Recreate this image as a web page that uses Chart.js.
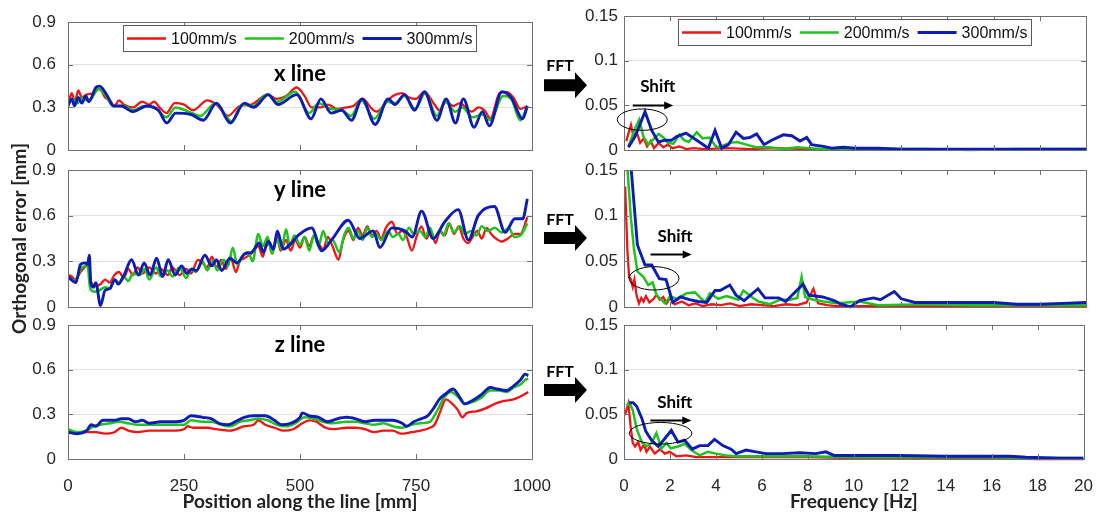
<!DOCTYPE html>
<html>
<head>
<meta charset="utf-8">
<title>Orthogonal error and FFT</title>
<script src="https://cdn.jsdelivr.net/npm/chart.js@4.4.1/dist/chart.umd.min.js"></script>
<style>
  html, body { margin: 0; padding: 0; background: #fff; }
  #figure { position: relative; width: 1102px; height: 515px; overflow: hidden; }
  #figure canvas { position: absolute; left: 0; top: 0; }
</style>
</head>
<body>
<div id="figure">
  <canvas id="xLine" width="1102" height="515"></canvas>
  <canvas id="yLine" width="1102" height="515"></canvas>
  <canvas id="zLine" width="1102" height="515"></canvas>
  <canvas id="xFft" width="1102" height="515"></canvas>
  <canvas id="yFft" width="1102" height="515"></canvas>
  <canvas id="zFft" width="1102" height="515"></canvas>
</div>
<script>
// ---- series labels / colours ----
const speeds = ['100mm/s', '200mm/s', '300mm/s'];
const speedColors = ['#f01414', '#1ec31e', '#0d1cb4'];
const speedWidths = [2.3, 2.5, 2.9];

// ---- tick values ----
const posTicks = [0, 250, 500, 750, 1000];
const errTicks = [0, 0.3, 0.6, 0.9];
const freqTicks = [0, 2, 4, 6, 8, 10, 12, 14, 16, 18, 20];
const ampTicks = [0, 0.05, 0.1, 0.15];

// ---- x line: position [mm] / orthogonal error [mm] ----
const xRedPos = [0, 8, 15, 22, 30, 40, 55, 68, 80, 90, 100, 110, 120, 140, 160, 175, 185, 200, 212, 230, 250, 270, 300, 320, 345, 370, 395, 430, 450, 470, 493, 510, 525, 545, 560, 580, 600, 615, 635, 655, 665, 690, 700, 720, 735, 750, 768, 790, 800, 815, 830, 845, 860, 870, 885, 900, 910, 930, 945, 960, 975, 990];
const xRedErr = [0.32, 0.40, 0.34, 0.42, 0.37, 0.39, 0.40, 0.43, 0.37, 0.35, 0.31, 0.35, 0.32, 0.30, 0.34, 0.32, 0.34, 0.29, 0.26, 0.33, 0.32, 0.28, 0.35, 0.32, 0.24, 0.31, 0.32, 0.39, 0.36, 0.38, 0.44, 0.38, 0.30, 0.30, 0.32, 0.29, 0.30, 0.31, 0.36, 0.29, 0.27, 0.35, 0.38, 0.40, 0.37, 0.36, 0.41, 0.32, 0.28, 0.34, 0.31, 0.33, 0.29, 0.27, 0.30, 0.27, 0.22, 0.40, 0.41, 0.37, 0.29, 0.31];
const xGreenPos = [0, 10, 20, 30, 40, 50, 65, 80, 97, 120, 140, 165, 190, 212, 232, 260, 285, 318, 345, 352, 375, 400, 428, 450, 490, 520, 540, 565, 590, 610, 632, 660, 688, 705, 725, 748, 770, 795, 813, 835, 850, 872, 893, 910, 938, 955, 975, 990];
const xGreenErr = [0.32, 0.36, 0.33, 0.37, 0.35, 0.36, 0.43, 0.39, 0.31, 0.31, 0.28, 0.31, 0.29, 0.23, 0.30, 0.27, 0.24, 0.33, 0.22, 0.20, 0.32, 0.31, 0.39, 0.34, 0.41, 0.26, 0.33, 0.29, 0.28, 0.24, 0.35, 0.22, 0.34, 0.33, 0.38, 0.29, 0.40, 0.24, 0.34, 0.27, 0.30, 0.23, 0.25, 0.21, 0.38, 0.36, 0.21, 0.31];
const xBluePos = [0, 8, 14, 22, 30, 38, 45, 60, 68, 85, 98, 115, 140, 170, 195, 213, 232, 265, 292, 320, 350, 380, 400, 432, 452, 493, 524, 545, 567, 590, 611, 634, 662, 690, 705, 725, 747, 768, 795, 815, 835, 852, 875, 893, 908, 935, 955, 980, 990];
const xBlueErr = [0.31, 0.36, 0.31, 0.37, 0.33, 0.38, 0.34, 0.44, 0.45, 0.38, 0.31, 0.31, 0.27, 0.31, 0.28, 0.19, 0.26, 0.25, 0.21, 0.33, 0.19, 0.33, 0.30, 0.39, 0.32, 0.39, 0.22, 0.36, 0.26, 0.28, 0.21, 0.36, 0.18, 0.36, 0.32, 0.39, 0.28, 0.41, 0.21, 0.36, 0.19, 0.36, 0.16, 0.27, 0.17, 0.41, 0.37, 0.22, 0.31];

// ---- y line ----
const yRedPos = [0, 8, 15, 25, 35, 45, 50, 60, 70, 80, 90, 100, 110, 120, 130, 140, 150, 160, 175, 190, 200, 215, 225, 240, 255, 265, 280, 290, 300, 310, 320, 330, 340, 350, 362, 370, 380, 395, 410, 420, 430, 440, 450, 458, 470, 480, 490, 500, 510, 520, 530, 540, 550, 560, 570, 583, 592, 605, 615, 625, 635, 645, 655, 665, 675, 685, 698, 710, 720, 730, 741, 752, 762, 772, 782, 792, 802, 812, 822, 832, 842, 852, 862, 872, 882, 892, 902, 912, 922, 935, 948, 963, 975, 990];
const yRedErr = [0.21, 0.20, 0.18, 0.22, 0.26, 0.28, 0.16, 0.14, 0.15, 0.18, 0.16, 0.21, 0.23, 0.19, 0.25, 0.21, 0.26, 0.22, 0.26, 0.22, 0.25, 0.21, 0.26, 0.21, 0.25, 0.22, 0.31, 0.29, 0.26, 0.33, 0.26, 0.31, 0.25, 0.33, 0.23, 0.30, 0.32, 0.35, 0.40, 0.33, 0.45, 0.35, 0.47, 0.37, 0.44, 0.37, 0.44, 0.39, 0.46, 0.40, 0.47, 0.42, 0.38, 0.46, 0.40, 0.31, 0.43, 0.50, 0.44, 0.52, 0.47, 0.53, 0.47, 0.50, 0.45, 0.52, 0.56, 0.48, 0.50, 0.46, 0.37, 0.47, 0.53, 0.45, 0.50, 0.42, 0.50, 0.47, 0.55, 0.48, 0.53, 0.45, 0.42, 0.46, 0.50, 0.45, 0.52, 0.48, 0.45, 0.43, 0.45, 0.48, 0.48, 0.59];
const yGreenPos = [0, 15, 30, 42, 48, 58, 68, 80, 90, 100, 110, 120, 130, 140, 155, 165, 175, 190, 200, 215, 225, 240, 255, 265, 275, 290, 300, 312, 322, 335, 345, 355, 365, 378, 388, 398, 410, 420, 430, 440, 450, 460, 470, 478, 488, 500, 510, 520, 530, 540, 550, 560, 570, 585, 595, 605, 615, 625, 635, 645, 655, 665, 675, 690, 700, 712, 722, 735, 745, 758, 770, 780, 790, 800, 810, 820, 832, 845, 855, 868, 880, 892, 905, 920, 935, 950, 962, 975, 990];
const yGreenErr = [0.19, 0.17, 0.26, 0.27, 0.12, 0.10, 0.11, 0.13, 0.12, 0.18, 0.16, 0.20, 0.17, 0.22, 0.21, 0.25, 0.18, 0.26, 0.20, 0.24, 0.20, 0.26, 0.19, 0.25, 0.23, 0.30, 0.24, 0.30, 0.24, 0.31, 0.27, 0.39, 0.28, 0.34, 0.36, 0.30, 0.48, 0.40, 0.46, 0.35, 0.45, 0.38, 0.51, 0.40, 0.47, 0.41, 0.46, 0.37, 0.47, 0.40, 0.50, 0.42, 0.44, 0.36, 0.47, 0.52, 0.45, 0.50, 0.44, 0.52, 0.46, 0.48, 0.44, 0.50, 0.46, 0.48, 0.44, 0.52, 0.48, 0.50, 0.46, 0.52, 0.45, 0.50, 0.47, 0.55, 0.49, 0.53, 0.48, 0.50, 0.47, 0.53, 0.50, 0.52, 0.49, 0.52, 0.46, 0.47, 0.55];
const yBluePos = [0, 17, 27, 37, 42, 46, 49, 55, 60, 70, 80, 90, 101, 108, 121, 137, 152, 164, 177, 191, 204, 216, 231, 245, 256, 267, 277, 295, 310, 320, 331, 349, 364, 381, 396, 412, 421, 432, 443, 451, 464, 478, 496, 525, 547, 568, 604, 629, 658, 672, 698, 726, 742, 762, 787, 812, 841, 863, 884, 919, 942, 963, 980, 990];
const yBlueErr = [0.20, 0.16, 0.28, 0.29, 0.28, 0.34, 0.16, 0.13, 0.16, 0.01, 0.11, 0.12, 0.18, 0.15, 0.21, 0.31, 0.21, 0.29, 0.21, 0.32, 0.20, 0.31, 0.21, 0.27, 0.22, 0.25, 0.24, 0.34, 0.27, 0.31, 0.24, 0.32, 0.29, 0.35, 0.36, 0.42, 0.36, 0.43, 0.38, 0.50, 0.38, 0.41, 0.47, 0.52, 0.37, 0.44, 0.57, 0.45, 0.50, 0.39, 0.52, 0.50, 0.46, 0.63, 0.45, 0.56, 0.64, 0.44, 0.60, 0.66, 0.49, 0.58, 0.58, 0.71];

// ---- z line ----
const zRedPos = [0, 20, 40, 60, 80, 100, 115, 130, 150, 175, 200, 225, 250, 258, 270, 300, 320, 350, 380, 400, 410, 425, 445, 465, 485, 505, 520, 535, 555, 575, 600, 620, 640, 660, 680, 700, 718, 740, 760, 780, 790, 800, 815, 825, 840, 850, 860, 880, 900, 920, 940, 960, 975, 992];
const zRedErr = [0.19, 0.18, 0.18, 0.18, 0.17, 0.18, 0.21, 0.19, 0.18, 0.19, 0.19, 0.19, 0.20, 0.22, 0.21, 0.21, 0.20, 0.19, 0.22, 0.23, 0.26, 0.23, 0.21, 0.19, 0.20, 0.24, 0.26, 0.25, 0.21, 0.20, 0.21, 0.21, 0.20, 0.18, 0.19, 0.19, 0.17, 0.18, 0.19, 0.21, 0.23, 0.30, 0.40, 0.38, 0.33, 0.28, 0.31, 0.32, 0.34, 0.37, 0.39, 0.40, 0.42, 0.45];
const zGreenPos = [0, 20, 40, 55, 70, 90, 110, 130, 150, 175, 200, 225, 250, 265, 290, 310, 330, 350, 370, 390, 410, 430, 450, 470, 490, 510, 530, 550, 570, 600, 620, 640, 660, 680, 700, 720, 740, 760, 780, 795, 810, 825, 840, 855, 870, 890, 910, 930, 945, 960, 975, 985, 992];
const zGreenErr = [0.20, 0.18, 0.19, 0.22, 0.23, 0.24, 0.25, 0.24, 0.23, 0.23, 0.23, 0.23, 0.23, 0.26, 0.25, 0.25, 0.23, 0.22, 0.25, 0.26, 0.27, 0.26, 0.23, 0.22, 0.24, 0.28, 0.27, 0.25, 0.24, 0.25, 0.25, 0.24, 0.23, 0.24, 0.22, 0.21, 0.23, 0.24, 0.25, 0.32, 0.41, 0.45, 0.42, 0.37, 0.38, 0.41, 0.46, 0.46, 0.45, 0.48, 0.50, 0.53, 0.54];
const zBluePos = [0, 20, 40, 50, 60, 75, 100, 115, 130, 145, 160, 175, 200, 225, 250, 265, 290, 310, 325, 345, 360, 380, 400, 425, 445, 460, 480, 500, 505, 520, 540, 560, 580, 600, 620, 640, 660, 680, 700, 720, 730, 745, 760, 775, 790, 800, 815, 830, 845, 855, 870, 890, 910, 925, 945, 960, 975, 985, 992];
const zBlueErr = [0.18, 0.17, 0.19, 0.23, 0.22, 0.26, 0.26, 0.27, 0.27, 0.25, 0.26, 0.24, 0.25, 0.25, 0.26, 0.29, 0.28, 0.27, 0.24, 0.23, 0.25, 0.28, 0.29, 0.29, 0.26, 0.23, 0.24, 0.28, 0.31, 0.29, 0.28, 0.25, 0.27, 0.28, 0.27, 0.25, 0.26, 0.26, 0.26, 0.24, 0.22, 0.25, 0.27, 0.29, 0.35, 0.40, 0.44, 0.47, 0.41, 0.37, 0.39, 0.43, 0.48, 0.47, 0.46, 0.49, 0.53, 0.57, 0.56];

// ---- FFT of x line: frequency [Hz] / amplitude ----
const xfRedHz = [0.1, 0.3, 0.42, 0.55, 0.7, 0.85, 1.0, 1.15, 1.3, 1.5, 1.7, 1.9, 2.1, 2.4, 2.7, 3.0, 3.5, 4.5, 5.5, 6.5, 8, 10, 12, 14, 16, 18, 20];
const xfRedAmp = [0.010, 0.028, 0.014, 0.020, 0.008, 0.013, 0.004, 0.010, 0.002, 0.008, 0.003, 0.006, 0.002, 0.004, 0.001, 0.002, 0.001, 0.002, 0.001, 0.002, 0.001, 0.001, 0.001, 0.001, 0.001, 0.001, 0.001];
const xfGreenHz = [0.19, 0.48, 0.66, 0.84, 1.05, 1.27, 1.5, 1.7, 1.9, 2.14, 2.4, 2.6, 2.8, 3.15, 3.4, 3.7, 4.0, 4.3, 4.6, 4.9, 5.3, 5.7, 6.3, 6.9, 7.5, 8.0, 8.6, 9.5, 11, 13, 15, 17, 20];
const xfGreenAmp = [0.004, 0.024, 0.034, 0.015, 0.006, 0.012, 0.018, 0.014, 0.008, 0.007, 0.017, 0.011, 0.009, 0.020, 0.013, 0.014, 0.003, 0.005, 0.008, 0.009, 0.006, 0.003, 0.003, 0.001, 0.003, 0.002, 0.001, 0.001, 0.001, 0.001, 0.000, 0.001, 0.001];
const xfBlueHz = [0.19, 0.48, 0.91, 1.20, 1.49, 1.78, 2.06, 2.28, 2.68, 3.15, 3.65, 3.94, 4.23, 4.52, 4.85, 5.17, 5.45, 5.74, 6.06, 6.39, 6.90, 7.26, 7.62, 7.91, 8.12, 8.63, 8.99, 9.5, 10, 11, 12, 14, 16, 18, 20];
const xfBlueAmp = [0.003, 0.015, 0.043, 0.022, 0.009, 0.011, 0.011, 0.015, 0.019, 0.011, 0.002, 0.022, 0.002, 0.006, 0.020, 0.013, 0.014, 0.018, 0.006, 0.011, 0.017, 0.016, 0.010, 0.014, 0.006, 0.004, 0.002, 0.003, 0.002, 0.002, 0.001, 0.001, 0.001, 0.001, 0.001];

// ---- FFT of y line ----
const yfRedHz = [0.05, 0.15, 0.22, 0.3, 0.38, 0.45, 0.55, 0.65, 0.75, 0.85, 0.95, 1.1, 1.25, 1.4, 1.55, 1.7, 1.85, 2.0, 2.2, 2.5, 2.8, 3.1, 3.4, 3.8, 4.2, 4.6, 5.0, 5.5, 6.0, 6.5, 7.0, 7.5, 7.9, 8.2, 8.4, 8.8, 9.2, 10, 12, 14, 16, 18, 20];
const yfRedAmp = [0.132, 0.060, 0.033, 0.030, 0.022, 0.030, 0.012, 0.004, 0.010, 0.006, 0.012, 0.005, 0.008, 0.013, 0.008, 0.011, 0.004, 0.010, 0.003, 0.006, 0.002, 0.004, 0.001, 0.003, 0.002, 0.004, 0.001, 0.003, 0.002, 0.001, 0.003, 0.002, 0.005, 0.020, 0.004, 0.002, 0.001, 0.001, 0.001, 0.001, 0.001, 0.001, 0.001];
const yfGreenHz = [0.1, 0.29, 0.43, 0.58, 0.84, 1.05, 1.24, 1.41, 1.78, 2.0, 2.28, 2.71, 3.07, 3.51, 3.72, 4.08, 4.44, 4.95, 5.17, 5.53, 5.82, 6.32, 6.75, 7.19, 7.5, 7.69, 7.84, 8.2, 8.63, 9.2, 10.2, 11, 13, 15, 17, 20];
const yfGreenAmp = [0.170, 0.100, 0.064, 0.039, 0.033, 0.024, 0.027, 0.013, 0.004, 0.012, 0.009, 0.015, 0.016, 0.005, 0.015, 0.009, 0.012, 0.008, 0.018, 0.011, 0.006, 0.003, 0.008, 0.008, 0.010, 0.033, 0.011, 0.008, 0.006, 0.004, 0.006, 0.002, 0.003, 0.002, 0.002, 0.002];
const yfBlueHz = [0.25, 0.58, 0.91, 1.20, 1.53, 1.82, 2.11, 2.45, 2.83, 3.22, 3.58, 3.94, 4.16, 4.58, 4.85, 5.2, 5.8, 6.1, 6.7, 7.0, 7.75, 8.0, 8.6, 9.1, 9.4, 9.8, 10.2, 10.8, 11.1, 11.7, 12.0, 12.6, 14, 16, 17, 18, 19, 20];
const yfBlueAmp = [0.170, 0.068, 0.046, 0.046, 0.031, 0.030, 0.005, 0.011, 0.008, 0.006, 0.005, 0.018, 0.018, 0.024, 0.013, 0.007, 0.020, 0.010, 0.010, 0.006, 0.025, 0.013, 0.011, 0.007, 0.003, 0.000, 0.007, 0.010, 0.008, 0.017, 0.009, 0.005, 0.005, 0.005, 0.003, 0.003, 0.004, 0.005];

// ---- FFT of z line ----
const zfRedHz = [0.04, 0.19, 0.29, 0.38, 0.48, 0.62, 0.72, 0.87, 0.98, 1.13, 1.34, 1.56, 1.78, 1.99, 2.28, 2.71, 3.15, 4, 6, 8, 10, 12, 14, 16, 18, 20];
const zfRedAmp = [0.049, 0.062, 0.036, 0.018, 0.014, 0.019, 0.010, 0.016, 0.008, 0.014, 0.006, 0.011, 0.006, 0.008, 0.003, 0.004, 0.002, 0.002, 0.002, 0.002, 0.001, 0.001, 0.001, 0.001, 0.000, 0.000];
const zfGreenHz = [0.12, 0.23, 0.38, 0.55, 0.77, 0.98, 1.20, 1.41, 1.63, 1.85, 2.03, 2.35, 2.64, 2.93, 3.29, 3.65, 4.01, 4.44, 4.88, 6, 8, 10, 12, 14, 16, 18, 20];
const zfGreenAmp = [0.060, 0.063, 0.055, 0.034, 0.019, 0.014, 0.018, 0.029, 0.012, 0.018, 0.012, 0.014, 0.017, 0.010, 0.004, 0.008, 0.006, 0.004, 0.003, 0.003, 0.003, 0.002, 0.002, 0.002, 0.002, 0.001, 0.001];
const zfBlueHz = [0.23, 0.40, 0.55, 0.77, 0.95, 1.20, 1.49, 1.78, 2.06, 2.35, 2.64, 2.97, 3.29, 3.65, 3.94, 4.30, 4.66, 4.88, 5.31, 5.74, 6.18, 6.90, 7.62, 8.35, 8.78, 9.14, 10, 12, 14, 16, 16.8, 17.5, 19, 20];
const zfBlueAmp = [0.063, 0.063, 0.059, 0.046, 0.031, 0.021, 0.014, 0.023, 0.032, 0.019, 0.021, 0.011, 0.015, 0.015, 0.022, 0.015, 0.011, 0.006, 0.010, 0.008, 0.006, 0.006, 0.007, 0.006, 0.008, 0.004, 0.004, 0.004, 0.003, 0.003, 0.003, 0.002, 0.001, 0.001];

// ---- page layout (plot boxes in canvas pixels) ----
const W = 1102, H = 515;
const COLS = { pos: { left: 68, right: 532 }, fft: { left: 624, right: 1086 } };
const ROWS = [{ top: 15, bottom: 150 }, { top: 170, bottom: 307 }, { top: 325, bottom: 459 }];

const TICK_FONT = { family: '"Liberation Sans", Arial, sans-serif', size: 17 };
const BOLD = 'Lato, "Open Sans", sans-serif';

const pts = (xs, ys) => xs.map((x, i) => ({ x, y: ys[i] }));

function strokeLine(ctx, x0, y0, x1, y1) {
  ctx.beginPath(); ctx.moveTo(x0, y0); ctx.lineTo(x1, y1); ctx.stroke();
}

// box, inward ticks, in-plot labels, legend and side arrows
const frame = {
  id: 'frame',
  afterDatasetsDraw(chart, args, o) {
    const { ctx, chartArea: a, scales: { x, y } } = chart;
    ctx.save();

    ctx.strokeStyle = '#707070';
    ctx.lineWidth = 1;
    ctx.beginPath();
    x.ticks.forEach(t => {
      const px = Math.round(x.getPixelForValue(t.value)) + 0.5;
      ctx.moveTo(px, a.top); ctx.lineTo(px, a.top + 5);
      ctx.moveTo(px, a.bottom); ctx.lineTo(px, a.bottom - 5);
    });
    y.ticks.forEach(t => {
      const py = Math.round(y.getPixelForValue(t.value)) + 0.5;
      ctx.moveTo(a.left, py); ctx.lineTo(a.left + 5, py);
      ctx.moveTo(a.right, py); ctx.lineTo(a.right - 5, py);
    });
    ctx.stroke();
    ctx.strokeRect(Math.round(a.left) + 0.5, Math.round(a.top) + 0.5, Math.round(a.width), Math.round(a.height));

    const cx = (a.left + a.right) / 2;

    if (o.name) {
      ctx.fillStyle = '#000';
      ctx.font = `bold 22px ${BOLD}`;
      ctx.textAlign = 'center';
      ctx.textBaseline = 'middle';
      ctx.fillText(o.name.text, cx, y.getPixelForValue(o.name.at));
    }

    if (o.legend) {
      ctx.font = `16px ${TICK_FONT.family}`;
      const items = chart.data.datasets.map(d => ({ d, w: ctx.measureText(d.label).width }));
      const lineLen = 39, gap = 5, itemGap = 8, pad = 4, bh = 26;
      const total = pad * 2 + items.reduce((s, it) => s + lineLen + gap + it.w, 0) + itemGap * (items.length - 1);
      const bx = Math.round(cx - total / 2), by = Math.round(a.top) + 3;
      ctx.fillStyle = '#fff';
      ctx.fillRect(bx, by, total, bh);
      ctx.strokeStyle = '#5a5a5a';
      ctx.lineWidth = 1;
      ctx.strokeRect(bx + 0.5, by + 0.5, Math.round(total), bh);
      let lx = bx + pad;
      const ly = by + bh / 2 + 0.5;
      items.forEach(it => {
        ctx.strokeStyle = it.d.borderColor;
        ctx.lineWidth = it.d.borderWidth;
        strokeLine(ctx, lx, ly, lx + lineLen, ly);
        lx += lineLen + gap;
        ctx.fillStyle = '#111';
        ctx.textAlign = 'left';
        ctx.textBaseline = 'middle';
        ctx.fillText(it.d.label, lx, ly + 1);
        lx += it.w + itemGap;
      });
    }

    if (o.shift) {
      const s = o.shift;
      ctx.fillStyle = '#000';
      ctx.font = `bold 17px ${BOLD}`;
      ctx.textAlign = 'center';
      ctx.textBaseline = 'middle';
      ctx.fillText('Shift', x.getPixelForValue(s.label[0]), y.getPixelForValue(s.label[1]));

      const x0 = x.getPixelForValue(s.arrow[0]), x1 = x.getPixelForValue(s.arrow[1]);
      const ay = Math.round(y.getPixelForValue(s.arrow[2])) + 0.5;
      ctx.strokeStyle = '#000';
      ctx.lineWidth = 2;
      strokeLine(ctx, x0, ay, x1 - 6, ay);
      ctx.beginPath();
      ctx.moveTo(x1, ay); ctx.lineTo(x1 - 9, ay - 4); ctx.lineTo(x1 - 9, ay + 4);
      ctx.closePath(); ctx.fill();

      const ex = x.getPixelForValue(s.ellipse[0]), ey = y.getPixelForValue(s.ellipse[1]);
      const rx = x.getPixelForValue(s.ellipse[0] + s.ellipse[2]) - ex;
      const ry = ey - y.getPixelForValue(s.ellipse[1] + s.ellipse[3]);
      ctx.lineWidth = 1;
      ctx.beginPath();
      ctx.ellipse(ex, ey, rx, ry, 0, 0, Math.PI * 2);
      ctx.stroke();
    }

    if (o.fftArrow) {
      // block arrow in the gap between the two columns
      const tip = a.left - 37, tail = a.left - 80, cy = a.top + o.fftArrow.arrowY;
      ctx.fillStyle = '#000';
      ctx.beginPath();
      ctx.moveTo(tail, cy - 6);
      ctx.lineTo(tip - 12, cy - 6);
      ctx.lineTo(tip - 12, cy - 13);
      ctx.lineTo(tip, cy);
      ctx.lineTo(tip - 12, cy + 13);
      ctx.lineTo(tip - 12, cy + 6);
      ctx.lineTo(tail, cy + 6);
      ctx.closePath();
      ctx.fill();
      ctx.font = `bold 16px ${BOLD}`;
      ctx.textAlign = 'center';
      ctx.textBaseline = 'middle';
      ctx.fillText('FFT', a.left - 64, a.top + o.fftArrow.textY);
    }

    ctx.restore();
  }
};

function makePanel(id, p) {
  const col = COLS[p.kind], row = ROWS[p.row];
  const isPos = p.kind === 'pos';
  const yW = isPos ? 62 : 56;
  const xH = p.row === 2 ? 56 : 0;
  const xTicks = isPos ? posTicks : freqTicks;
  const yTicks = isPos ? errTicks : ampTicks;

  const datasets = p.series.map((s, i) => Object.assign({
    label: speeds[i],
    data: pts(s[0], s[1]),
    borderColor: speedColors[i],
    backgroundColor: speedColors[i],
    borderWidth: speedWidths[i],
    pointRadius: 0,
    order: 3 - i,
    clip: { left: 0, top: 0, right: 0, bottom: 3 }
  }, isPos ? { cubicInterpolationMode: 'monotone' } : { tension: 0 }));

  return new Chart(document.getElementById(id), {
    type: 'line',
    data: { datasets },
    options: {
      responsive: false,
      animation: false,
      devicePixelRatio: 1,
      events: [],
      layout: {
        padding: { left: col.left - yW, top: row.top, right: W - col.right, bottom: H - row.bottom - xH }
      },
      plugins: {
        legend: { display: false },
        tooltip: { enabled: false },
        frame: p.frame
      },
      scales: {
        x: {
          type: 'linear',
          min: xTicks[0],
          max: xTicks[xTicks.length - 1],
          afterBuildTicks: sc => { sc.ticks = xTicks.map(v => ({ value: v })); },
          afterFit: sc => { sc.height = xH; },
          grid: { display: false },
          border: { display: false },
          ticks: { display: p.row === 2, font: TICK_FONT, color: '#262626', padding: 9, maxRotation: 0, callback: v => String(v) },
          title: {
            display: p.row === 2,
            text: isPos ? 'Position along the line [mm]' : 'Frequency [Hz]',
            font: { family: BOLD, size: 19, weight: 'bold' },
            color: '#222',
            padding: { top: 0, bottom: 2 }
          }
        },
        y: {
          type: 'linear',
          min: yTicks[0],
          max: yTicks[yTicks.length - 1],
          afterBuildTicks: sc => { sc.ticks = yTicks.map(v => ({ value: v })); },
          afterFit: sc => { sc.width = yW; },
          grid: { color: '#e2e2e2', lineWidth: 1, drawTicks: false },
          border: { display: false },
          ticks: { font: TICK_FONT, color: '#262626', padding: isPos ? 12 : 6, callback: v => String(v) },
          title: {
            display: !!p.yTitle,
            text: 'Orthogonal error [mm]',
            font: { family: BOLD, size: 19, weight: 'bold' },
            color: '#222',
            padding: { top: 2, bottom: 0 }
          }
        }
      }
    },
    plugins: [frame]
  });
}

makePanel('xLine', {
  kind: 'pos', row: 0,
  series: [[xRedPos, xRedErr], [xGreenPos, xGreenErr], [xBluePos, xBlueErr]],
  frame: { name: { text: 'x line', at: 0.533 }, legend: true }
});
makePanel('yLine', {
  kind: 'pos', row: 1, yTitle: true,
  series: [[yRedPos, yRedErr], [yGreenPos, yGreenErr], [yBluePos, yBlueErr]],
  frame: { name: { text: 'y line', at: 0.77 } }
});
makePanel('zLine', {
  kind: 'pos', row: 2,
  series: [[zRedPos, zRedErr], [zGreenPos, zGreenErr], [zBluePos, zBlueErr]],
  frame: { name: { text: 'z line', at: 0.766 } }
});

makePanel('xFft', {
  kind: 'fft', row: 0,
  series: [[xfRedHz, xfRedAmp], [xfGreenHz, xfGreenAmp], [xfBlueHz, xfBlueAmp]],
  frame: {
    legend: true,
    shift: { label: [1.46, 0.071], arrow: [0.38, 2.13, 0.0507], ellipse: [0.79, 0.034, 1.08, 0.012] },
    fftArrow: { arrowY: 69, textY: 50 }
  }
});
makePanel('yFft', {
  kind: 'fft', row: 1,
  series: [[yfRedHz, yfRedAmp], [yfGreenHz, yfGreenAmp], [yfBlueHz, yfBlueAmp]],
  frame: {
    shift: { label: [2.21, 0.077], arrow: [1.15, 2.93, 0.0577], ellipse: [1.30, 0.0314, 1.08, 0.0128] },
    fftArrow: { arrowY: 68, textY: 50 }
  }
});
makePanel('zFft', {
  kind: 'fft', row: 2,
  series: [[zfRedHz, zfRedAmp], [zfGreenHz, zfGreenAmp], [zfBlueHz, zfBlueAmp]],
  frame: {
    shift: { label: [2.21, 0.0635], arrow: [1.15, 2.93, 0.0437], ellipse: [1.59, 0.0288, 1.36, 0.0121] },
    fftArrow: { arrowY: 65, textY: 47 }
  }
});
</script>
</body>
</html>
